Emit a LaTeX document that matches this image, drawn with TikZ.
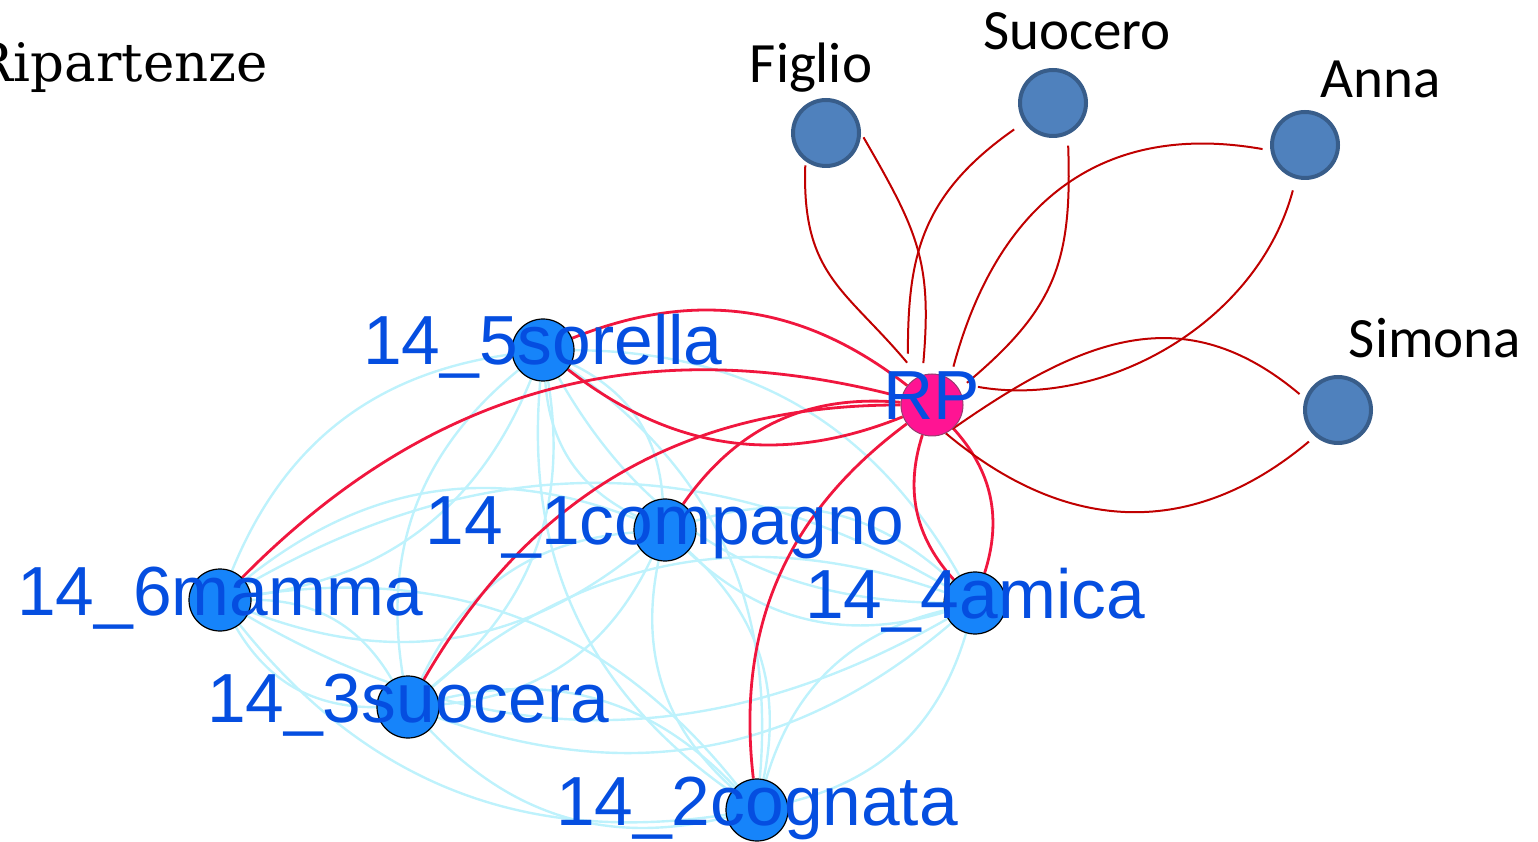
\documentclass[tikz,border=0pt]{standalone}
\usepackage{fontspec}
\usepackage{tikz}
\usetikzlibrary{backgrounds}

\newfontfamily\arialfont{Liberation Sans}
\newfontfamily\calibrifont{Carlito}
\newfontfamily\titlefont{DejaVu Serif}

\definecolor{alterblue}{RGB}{22,132,250}
\definecolor{labelblue}{RGB}{5,78,224}
\definecolor{egopink}{RGB}{255,20,147}
\definecolor{egoline}{RGB}{150,60,110}
\definecolor{tiecyan}{RGB}{190,242,252}
\definecolor{egored}{RGB}{240,22,62}
\definecolor{linkred}{RGB}{192,0,0}
\definecolor{officefill}{RGB}{79,129,189}
\definecolor{officeline}{RGB}{56,93,138}

\tikzset{
	alter/.style={circle, fill=alterblue, draw=black, line width=1.2pt, minimum size=62pt, inner sep=0pt},
	ego/.style={circle, fill=egopink, draw=egoline, line width=1pt, minimum size=62pt, inner sep=0pt},
	person/.style={circle, fill=officefill, draw=officeline, line width=4pt, minimum size=66pt, inner sep=0pt},
	lab/.style={text=labelblue, font=\arialfont\fontsize{69.5}{80}\selectfont, anchor=base, yshift=-15pt, inner sep=0pt},
	personname/.style={font=\calibrifont\fontsize{57}{68}\selectfont, anchor=base, inner sep=0pt},
	tie/.style={draw=tiecyan, line width=2.4pt},
	egotie/.style={draw=egored, line width=2.8pt},
	link/.style={draw=linkred, line width=2pt},
}

\begin{document}
\begin{tikzpicture}[x=1pt, y=1pt]
	\useasboundingbox (0, 0) rectangle (1538, 841);
	\clip (0, 0) rectangle (1538, 841);

	\node [font=\titlefont\fontsize{53}{62}\selectfont, anchor=base east, inner sep=0pt] (title) at (268, 759) {Ripartenze};

	% ego network
	\node [ego] (rp) at (932, 436) {};
	\node [alter] (sorella) at (543, 491) {};
	\node [alter] (compagno) at (665, 311) {};
	\node [alter] (mamma) at (220, 241) {};
	\node [alter] (amica) at (975, 238) {};
	\node [alter] (suocera) at (408, 134) {};
	\node [alter] (cognata) at (757, 31) {};

	\node [lab] (rplab) at (rp) {RP};
	\node [lab] (sorellalab) at (sorella) {14\_5sorella};
	\node [lab] (compagnolab) at (compagno) {14\_1compagno};
	\node [lab] (mammalab) at (mamma) {14\_6mamma};
	\node [lab] (amicalab) at (amica) {14\_4amica};
	\node [lab] (suoceralab) at (suocera) {14\_3suocera};
	\node [lab] (cognatalab) at (cognata) {14\_2cognata};

	% added people
	\node [person] (figlio) at (826, 708) {};
	\node [person] (suocero) at (1053, 738) {};
	\node [person] (anna) at (1305, 696) {};
	\node [person] (simona) at (1338, 431) {};

	\node [personname] (figliolab) at (811, 758) {Figlio};
	\node [personname] (suocerolab) at (1077, 791) {Suocero};
	\node [personname] (annalab) at (1381, 743) {Anna};
	\node [personname] (simonalab) at (1435, 483) {Simona};

	\begin{pgfonlayer}{background}
		\draw [tie] (sorella) to [bend left=30] (compagno);
		\draw [tie] (compagno) to [bend left=30] (sorella);
		\draw [tie] (sorella) to [bend left=30] (mamma);
		\draw [tie] (mamma) to [bend left=30] (sorella);
		\draw [tie] (sorella) to [bend left=30] (amica);
		\draw [tie] (amica) to [bend left=30] (sorella);
		\draw [tie] (sorella) to [bend left=30] (suocera);
		\draw [tie] (suocera) to [bend left=30] (sorella);
		\draw [tie] (sorella) to [bend left=30] (cognata);
		\draw [tie] (cognata) to [bend left=30] (sorella);
		\draw [tie] (compagno) to [bend left=30] (mamma);
		\draw [tie] (mamma) to [bend left=30] (compagno);
		\draw [tie] (compagno) to [bend left=30] (amica);
		\draw [tie] (amica) to [bend left=30] (compagno);
		\draw [tie] (compagno) to [bend left=30] (suocera);
		\draw [tie] (suocera) to [bend left=30] (compagno);
		\draw [tie] (compagno) to [bend left=30] (cognata);
		\draw [tie] (cognata) to [bend left=30] (compagno);
		\draw [tie] (mamma) to [bend left=30] (amica);
		\draw [tie] (amica) to [bend left=30] (mamma);
		\draw [tie] (mamma) to [bend left=30] (suocera);
		\draw [tie] (suocera) to [bend left=30] (mamma);
		\draw [tie] (mamma) to [bend left=30] (cognata);
		\draw [tie] (cognata) to [bend left=30] (mamma);
		\draw [tie] (amica) to [bend left=30] (suocera);
		\draw [tie] (suocera) to [bend left=30] (amica);
		\draw [tie] (amica) to [bend left=30] (cognata);
		\draw [tie] (cognata) to [bend left=30] (amica);
		\draw [tie] (suocera) to [bend left=30] (cognata);
		\draw [tie] (cognata) to [bend left=30] (suocera);

		\draw [egotie] (sorella) to [bend left=30] (rp);
		\draw [egotie] (rp) to [bend left=30] (sorella);
		\draw [egotie] (mamma) to [bend left=30] (rp);
		\draw [egotie] (compagno) to [bend left=30] (rp);
		\draw [egotie] (suocera) to [bend left=30] (rp);
		\draw [egotie] (cognata) to [bend left=30] (rp);
		\draw [egotie] (amica) to [bend left=30] (rp);
		\draw [egotie] (rp) to [bend left=30] (amica);

		\draw [link, shorten <=4pt, shorten >=18pt] (figlio.234) to [out=268, in=130, looseness=1.2] (rp.115);
		\draw [link, shorten <=5pt, shorten >=12pt] (figlio.0) to [out=300, in=85, looseness=1.17] (rp.108);
		\draw [link, shorten <=12pt, shorten >=31pt] (suocero.214) to [out=215, in=90, looseness=1.13] (rp.140);
		\draw [link, shorten <=11pt, shorten >=10pt] (suocero.295) to [out=272, in=40, looseness=1.17] (rp.30);
		\draw [link, shorten <=8pt, shorten >=13pt] (anna.189) to [out=170, in=75, looseness=1.15] (rp.55);
		\draw [link, shorten <=12pt, shorten >=24pt] (anna.255) to [out=255, in=350, looseness=0.97] (rp.45);
		\draw [link, shorten <=7pt] (simona.161) to [out=140, in=35, looseness=1.15] (rp.310);
		\draw [link, shorten <=8pt] (simona.229) to [out=220, in=320, looseness=1.1] (rp.296);
	\end{pgfonlayer}
\end{tikzpicture}
\end{document}
